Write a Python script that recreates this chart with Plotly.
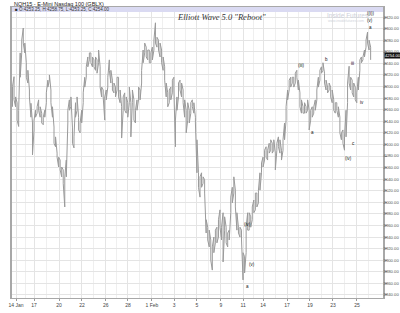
import plotly.graph_objects as go

# ---- data (price ranges of consecutive bar groups) ----
bar_high = [
    4200, 4217, 4182, 4172, 4159, 4258, 4280, 4301, 4275, 4241,
    4228, 4194, 4171, 4137, 4142, 4159, 4165, 4177, 4165, 4154,
    4147, 4159, 4189, 4211, 4220, 4194, 4165, 4130, 4113, 4085,
    4078, 4073, 4061, 4056, 4044, 4073, 4159, 4177, 4182, 4130,
    4113, 4172, 4182, 4147, 4137, 4159, 4189, 4216, 4234, 4251,
    4258, 4258, 4251, 4246, 4251, 4246, 4263, 4234, 4199, 4194,
    4182, 4194, 4216, 4246, 4228, 4211, 4206, 4199, 4216, 4216,
    4194, 4165, 4182, 4189, 4182, 4172, 4199, 4172, 4194, 4177,
    4159, 4177, 4199, 4194, 4228, 4263, 4275, 4268, 4263, 4263,
    4258, 4268, 4280, 4310, 4285, 4280, 4275, 4263, 4251, 4234,
    4206, 4189, 4194, 4199, 4211, 4216, 4142, 4182, 4206, 4211,
    4206, 4194, 4177, 4159, 4172,
    4159, 4172, 4177, 4172, 4147, 4108, 4051, 4044, 4051, 4044,
    4039, 3970, 3957, 3952, 3935, 3923, 3940, 3952, 3957, 3970,
    3987, 3957, 3982, 3975, 3957, 3947, 3952, 4009, 4026, 4044,
    4021, 3982, 3957, 3957, 3952, 3913, 3906, 3957, 3982, 3982,
    3975, 3992, 4004, 4016, 4016, 4021, 4051, 4068, 4078, 4090,
    4096, 4090, 4102, 4108, 4102, 4108, 4085,
    4102, 4113, 4108, 4090, 4108, 4137, 4165, 4194, 4211, 4216,
    4216, 4216, 4223, 4228, 4211, 4189, 4177, 4165, 4172, 4165,
    4177, 4159, 4159, 4165, 4165, 4177, 4194, 4216, 4228, 4234,
    4241, 4223, 4211, 4199, 4206, 4199, 4194, 4177, 4172, 4172,
    4165, 4147, 4120, 4125, 4113, 4159, 4206, 4235, 4216, 4211,
    4206, 4199, 4189, 4216, 4246, 4251, 4251, 4263, 4280, 4294,
    4280, 4268,
]
bar_low = [
    4165, 4177, 4165, 4142, 4131, 4216, 4258, 4275, 4258, 4216,
    4206, 4182, 4147, 4082, 4125, 4147, 4154, 4159, 4147, 4137,
    4134, 4147, 4172, 4199, 4211, 4172, 4147, 4102, 4096, 4078,
    4061, 4056, 4044, 4033, 3992, 4044, 4137, 4159, 4165, 4102,
    4094, 4147, 4159, 4125, 4120, 4137, 4172, 4199, 4216, 4234,
    4246, 4241, 4234, 4234, 4228, 4223, 4241, 4199, 4182, 4182,
    4142, 4177, 4199, 4228, 4206, 4194, 4189, 4182, 4194, 4182,
    4172, 4111, 4159, 4159, 4154, 4147, 4172, 4113, 4172, 4142,
    4137, 4159, 4177, 4177, 4206, 4241, 4258, 4251, 4246, 4241,
    4241, 4246, 4263, 4275, 4268, 4263, 4251, 4241, 4228, 4211,
    4182, 4165, 4172, 4177, 4189, 4194, 4096, 4159, 4182, 4194,
    4182, 4172, 4147, 4120, 4142,
    4137, 4154, 4165, 4154, 4137, 4051, 4026, 4009, 4026, 4033,
    4016, 3947, 3935, 3923, 3900, 3883, 3913, 3930, 3930, 3940,
    3957, 3935, 3897, 3952, 3930, 3923, 3935, 3982, 3999, 4016,
    3992, 3952, 3947, 3940, 3935, 3866, 3878, 3913, 3952, 3952,
    3957, 3970, 3982, 3987, 3992, 3999, 4021, 4051, 4061, 4073,
    4078, 4073, 4085, 4090, 4085, 4090, 4056,
    4090, 4096, 4085, 4073, 4090, 4108, 4142, 4177, 4194, 4199,
    4206, 4199, 4206, 4216, 4194, 4165, 4154, 4154, 4154, 4154,
    4159, 4125, 4142, 4147, 4154, 4159, 4177, 4199, 4211, 4223,
    4228, 4206, 4194, 4189, 4194, 4182, 4172, 4159, 4154, 4159,
    4147, 4120, 4108, 4102, 4090, 4113, 4172, 4206, 4194, 4189,
    4182, 4177, 4172, 4194, 4228, 4241, 4246, 4251, 4268, 4275,
    4263, 4246,
]

tick_labels = ["14 Jan", "17", "20", "22", "26", "28", "1 Feb", "3", "5",
               "9", "11", "14", "17", "19", "23", "25"]
tick_index = [2.3, 14.0, 30.3, 45.2, 60.7, 75.1, 90.7, 105.1, 120.0,
              135.6, 150.0, 163.0, 178.6, 193.5, 208.5, 224.1]

y_ticks = list(range(3840, 4321, 20))
last_price = 4254.00
ohlc_text = "O:4253.25, H:4258.75, L:4253.25, C:4254.00"

wave_text = ["(iv)", "(v)", "a", "(iii)", "a", "b", "(iv)", "c", "iii", "iv",
             "((i))", "(v)", "a"]
wave_index = [152.6, 155.8, 152.6, 187.7, 195.5, 204.6, 218.9, 221.8, 220.9,
              227.6, 232.6, 232.6, 232.6]
wave_price = [3962, 3892, 3854, 4236, 4121, 4246, 4076, 4101, 4240, 4173,
              4326, 4314, 4302]

NARROW = "Liberation Sans Narrow, Liberation Sans"

# ---- build the chart ----
xs, ys = [], []
for i, (h, l) in enumerate(zip(bar_high, bar_low)):
    xs += [i, i]
    ys += [l, h] if i % 2 == 0 else [h, l]

fig = go.Figure()
fig.add_trace(go.Scatter(x=xs, y=ys, mode="lines",
                         line=dict(color="#9a9a9a", width=1),
                         hoverinfo="skip", showlegend=False))

minor_vals = [(a + b) / 2 for a, b in zip(tick_index[:-1], tick_index[1:])]
minor_vals.append(tick_index[-1] + (tick_index[-1] - tick_index[-2]) / 2)

fig.update_xaxes(range=[-0.33, 241.05], tickmode="array", tickvals=tick_index,
                 ticktext=tick_labels, showgrid=True, gridcolor="#e4e4e4",
                 gridwidth=1, showline=True, linecolor="#a8a8a8", mirror=True,
                 ticks="outside", ticklen=2, tickcolor="#999",
                 tickfont=dict(size=5, color="#444", family="Liberation Sans"),
                 zeroline=False, automargin=False,
                 minor=dict(tickvals=minor_vals, showgrid=True,
                            gridcolor="#efefef", ticks=""))
fig.update_yaxes(range=[3834.8, 4337.3], side="right", tickmode="array",
                 tickvals=y_ticks, ticktext=[f"{v:.2f}" for v in y_ticks],
                 showgrid=True, gridcolor="#e4e4e4", showline=True,
                 linecolor="#a8a8a8", linewidth=1.5, mirror=True,
                 ticks="outside", ticklen=2, tickcolor="#999",
                 ticklabelstandoff=-4,
                 tickfont=dict(size=4.2, color="#555", family=NARROW),
                 zeroline=False, automargin=False)

# header strip
fig.add_shape(type="rect", xref="paper", yref="paper", x0=0, x1=1,
              y0=1 - 5 / 291, y1=1, fillcolor="#dadaf2", line_width=0,
              layer="above")

ann = []
ann.append(dict(text="NQH15 - E-Mini Nasdaq 100 (GBLX)", xref="paper",
                yref="paper", x=0, y=1 + 3.5 / 291, xanchor="left",
                yanchor="middle", showarrow=False,
                font=dict(size=5.5, color="#222", family="Liberation Sans")))
ann.append(dict(text="■ " + ohlc_text, xref="paper", yref="paper",
                x=0.004, y=1 - 2.6 / 291, xanchor="left", yanchor="middle",
                showarrow=False,
                font=dict(size=4.5, color="#333", family="Liberation Sans")))
ann.append(dict(text='Elliott Wave 5.0 "Reboot"', xref="paper", yref="paper",
                x=0.566, y=1 - 10 / 291, xanchor="center", yanchor="middle",
                showarrow=False,
                font=dict(size=8.5, color="#333", family="Liberation Serif",
                          style="italic")))
ann.append(dict(text="Inside Futures", xref="paper", yref="paper",
                x=0.844, y=1 - 8 / 291, xanchor="left", yanchor="middle",
                showarrow=False,
                font=dict(size=6.5, color="#cdd0da", family="Liberation Sans")))
ann.append(dict(text="www.insidefutures.com", xref="paper", yref="paper",
                x=0.846, y=1 - 14 / 291, xanchor="left", yanchor="middle",
                showarrow=False,
                font=dict(size=3.5, color="#d0d3db", family="Liberation Sans")))
ann.append(dict(text=f"{last_price:.2f}", xref="paper", yref="y", x=1,
                y=last_price, xanchor="left", yanchor="middle", xshift=1,
                showarrow=False, bgcolor="#111", borderpad=0,
                font=dict(size=4.2, color="#fff", family=NARROW)))
for t, xi, yp in zip(wave_text, wave_index, wave_price):
    ann.append(dict(text=t, x=xi, y=yp, xref="x", yref="y", showarrow=False,
                    xanchor="center", yanchor="middle",
                    font=dict(size=4.5, color="#111", family="Liberation Sans")))

fig.update_layout(width=400, height=313, margin=dict(l=12, r=17, t=7, b=15),
                  plot_bgcolor="white", paper_bgcolor="white",
                  annotations=ann, showlegend=False)

fig.write_html("out.html")
